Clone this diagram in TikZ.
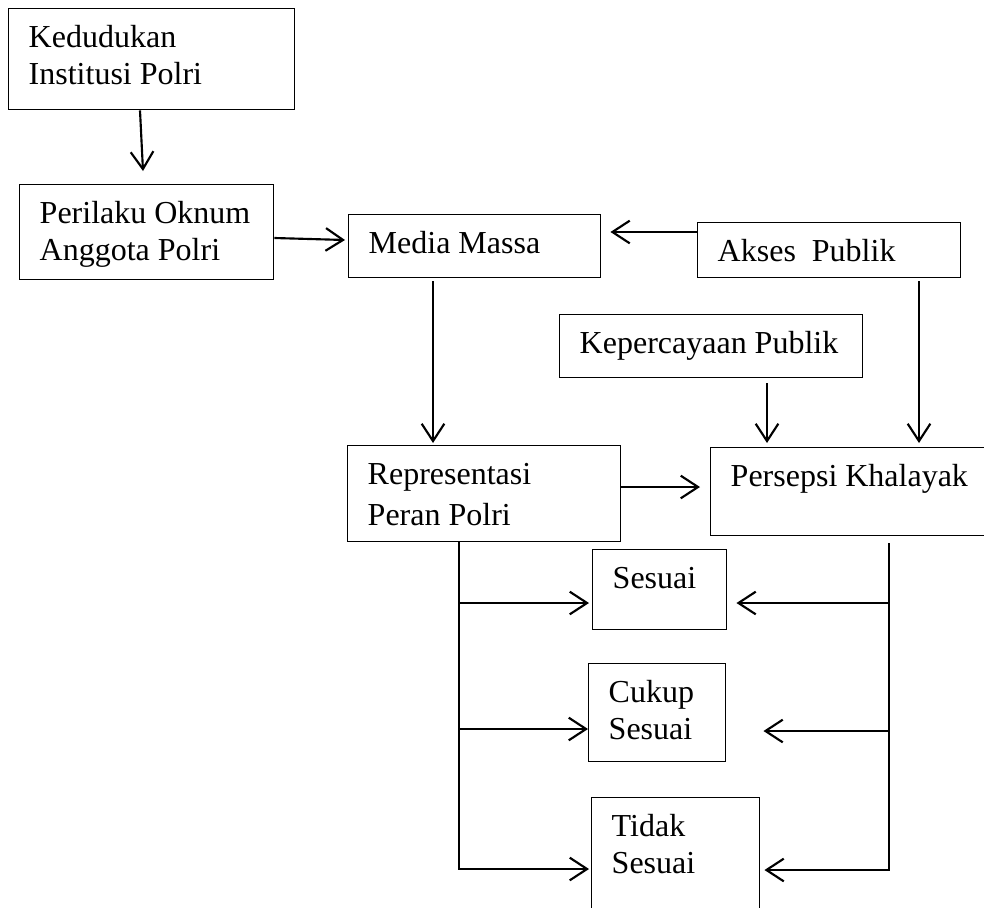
\documentclass[tikz,border=0pt]{standalone}
\usepackage{fontspec}
\setmainfont{Liberation Serif}
\usetikzlibrary{arrows.meta,calc}

\tikzset{
  box/.style={draw, line width=1.1pt, inner sep=0pt, anchor=north west, font=\fontsize{24}{28}\selectfont},
  wire/.style={line width=1.6pt},
  arr/.style={wire, -{Straight Barb[length=13pt,width=17pt,line width=1.6pt]}},
}
% text box: width, height, lines (text sits at the top like a Word text box)
\newcommand{\boxtxt}[3]{\parbox[c][#2][t]{#1}{\raggedright\leftskip=15pt\rule{0pt}{29pt}#3}}

\begin{document}
\begin{tikzpicture}[x=0.75pt,y=0.75pt,yscale=-1,xscale=1]
\useasboundingbox (0,0) rectangle (984,907);
\clip (0,0) rectangle (984,907);

%Shapes: Rectangles
\node[box] (ked) at (8,8) {\boxtxt{214.5pt}{75.75pt}{Kedudukan\\Institusi Polri}};
\node[box] (peri) at (19,184) {\boxtxt{190.5pt}{71.25pt}{Perilaku Oknum\\Anggota Polri}};
\node[box] (media) at (348,214) {\boxtxt{189pt}{47.25pt}{Media Massa}};
\node[box] (akses) at (697,222) {\boxtxt{197.25pt}{41.25pt}{Akses~ Publik}};
\node[box] (kep) at (559,314) {\boxtxt{227.25pt}{47.25pt}{Kepercayaan Publik}};
\node[box] (rep) at (347,445) {\boxtxt{204.75pt}{72pt}{Representasi\\[3pt]Peran Polri}};
\node[box] (pers) at (710,447) {\boxtxt{217.5pt}{66pt}{Persepsi Khalayak}};
\node[box] (ses) at (592,549) {\boxtxt{100.5pt}{60pt}{Sesuai}};
\node[box] (cuk) at (588,663) {\boxtxt{102.75pt}{73.5pt}{Cukup\\Sesuai}};
\node[box] (tid) at (591,797) {\boxtxt{126pt}{90pt}{Tidak\\Sesuai}};

%Bus lines
\coordinate (lbus) at ($(rep.south west)+(112,0)$);
\coordinate (rbus) at ($(pers.south west)+(179,7)$);
\coordinate (sesin) at ($(ses.north west)+(-3,54)$);
\coordinate (cukin) at ($(cuk.north west)+(0,66)$);
\coordinate (tidin) at ($(tid.north west)+(-2,72)$);
\coordinate (sesout) at ($(ses.north east)+(9,54)$);
\coordinate (cukout) at ($(cuk.north east)+(37,68)$);
\coordinate (tidout) at ($(tid.north east)+(4,73)$);

%Straight Lines
\draw[arr] ($(ked.south west)+(132,0)$) -- ($(peri.north west)+(124,-13)$);
\draw[arr] ($(peri.north east)+(0,54)$) -- ($(media.north west)+(-3,26)$);
\draw[arr] ($(akses.north west)+(0,10)$) -- ($(media.north east)+(9,18)$);
\draw[arr] ($(media.south west)+(85,3)$) -- ($(rep.north west)+(86,-2)$);
\draw[arr] ($(kep.south west)+(208,5)$) -- ($(pers.north west)+(57,-4)$);
\draw[arr] ($(akses.south west)+(222,3)$) -- ($(pers.north west)+(209,-4)$);
\draw[arr] ($(rep.north east)+(0,42)$) -- ($(pers.north west)+(-10,40)$);

%Left branches
\draw[arr] (lbus) |- (tidin);
\draw[arr] (lbus |- sesin) -- (sesin);
\draw[arr] (lbus |- cukin) -- (cukin);

%Right branches
\draw[arr] (rbus) |- (tidout);
\draw[arr] (rbus |- sesout) -- (sesout);
\draw[arr] (rbus |- cukout) -- (cukout);
\end{tikzpicture}
\end{document}
